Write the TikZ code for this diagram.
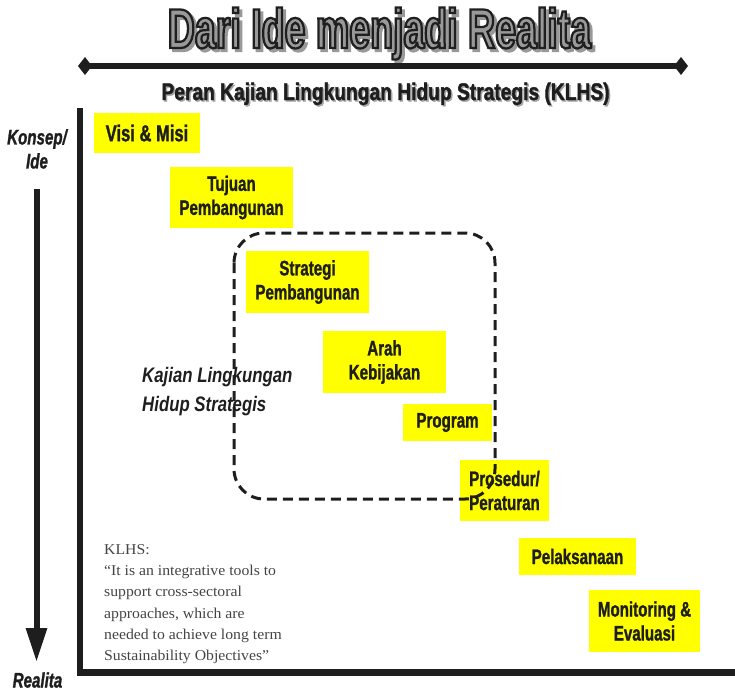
\documentclass[tikz,border=0pt]{standalone}
\usepackage{fontspec}
\setmainfont{Liberation Sans}
\newfontfamily\judulfont[FakeStretch=0.67,FakeBold=4]{Liberation Sans Bold}
\newfontfamily\sempitfont[FakeStretch=0.8,FakeBold=1.6]{Liberation Sans}
\newfontfamily\kotakfont[FakeStretch=0.72,FakeBold=1.2]{Liberation Sans}
\newfontfamily\miringfont[FakeStretch=0.8]{Liberation Sans}
\newfontfamily\kutipfont[FakeStretch=1.05]{Liberation Serif}
\usetikzlibrary{arrows.meta}
\definecolor{kuning}{HTML}{FFFF00}
\definecolor{hitam}{HTML}{1E1E1E}
\definecolor{abukutip}{HTML}{444444}
\newcommand{\judulteks}{Dari Ide menjadi Realita}
\newcommand{\subjudulteks}{Peran Kajian Lingkungan Hidup Strategis (KLHS)}
% isi abu-abu, garis tepi hitam
\newcommand{\tepihitam}[1]{\special{pdf:bcolor [0.6] [0.12]}#1\special{pdf:ecolor}}

\begin{document}
\begin{tikzpicture}[x=1pt,y=-1pt,
    tahap/.style={fill=kuning, text=hitam, inner sep=0pt, align=center,
        font=\kotakfont\bfseries\fontsize{21}{24}\selectfont},
    judul/.style={anchor=base, inner sep=0pt, font=\judulfont\fontsize{56}{60}\selectfont},
    subjudul/.style={anchor=base, inner sep=0pt, font=\sempitfont\bfseries\fontsize{24}{28}\selectfont},
    sumbu/.style={text=hitam, inner sep=0pt, align=center,
        font=\kotakfont\bfseries\itshape\fontsize{21}{24}\selectfont}]
    \useasboundingbox (0,0) rectangle (735,691);

    % judul
    \node[judul, text=black!40] (bayang-judul) at (382.5,51) {\judulteks};
    \node[judul] (judul) at (379.5,48) {\tepihitam{\judulteks}};

    \coordinate (garis-kiri) at (78,66);
    \coordinate (garis-kanan) at (688,66);
    \draw[hitam, line width=5.5pt, {Diamond[width=18pt,length=14pt]}-{Diamond[width=18pt,length=14pt]}]
        (garis-kiri) -- (garis-kanan);

    \node[subjudul, text=black!35] (bayang-subjudul) at (387,101.5) {\subjudulteks};
    \node[subjudul, text=hitam] (subjudul) at (385.5,100) {\subjudulteks};

    % sumbu
    \coordinate (sumbu-atas) at (80,108);
    \coordinate (sumbu-sudut) at (80,675.5);
    \coordinate (sudut-kiri) at (77,672);
    \coordinate (sumbu-kanan) at (735,672);
    \draw[hitam, line width=6pt] (sumbu-atas) -- (sumbu-sudut);
    \draw[hitam, line width=7pt] (sudut-kiri) -- (sumbu-kanan);

    \node[sumbu, anchor=north] (konsep) at (37,129) {Konsep/\\Ide};
    \node[sumbu, anchor=base] (realita) at (37.5,687.5) {Realita};
    \coordinate (panah-atas) at (36.5,189);
    \coordinate (panah-bawah) at (36.5,662);
    \draw[hitam, line width=6pt, -{Triangle[width=20pt,length=34pt]}] (panah-atas) -- (panah-bawah);

    % tahapan
    \node[tahap, minimum width=106pt, minimum height=40pt,
        font=\kotakfont\bfseries\fontsize{23}{26}\selectfont] (visi) at (147,133) {Visi \& Misi};
    \node[tahap, minimum width=123pt, minimum height=61pt] (tujuan) at (231.5,197.5) {Tujuan\\Pembangunan};
    \node[tahap, minimum width=123pt, minimum height=62pt] (strategi) at (307.5,282) {Strategi\\Pembangunan};
    \node[tahap, minimum width=123pt, minimum height=62pt] (arah) at (384.5,362) {Arah\\Kebijakan};
    \node[tahap, minimum width=89pt, minimum height=37pt] (program) at (447.5,422.5) {Program};
    \node[tahap, minimum width=89pt, minimum height=61pt] (prosedur) at (504.5,490.5) {Prosedur/\\Peraturan};
    \node[tahap, minimum width=117pt, minimum height=37pt] (pelaksanaan) at (577.5,556.5) {Pelaksanaan};
    \node[tahap, minimum width=111pt, minimum height=62pt] (monev) at (644.5,621) {Monitoring \&\\Evaluasi};

    \node[sumbu, anchor=north west, align=left,
        font=\miringfont\bfseries\itshape\fontsize{21}{29}\selectfont] (kajian) at (142,367.5)
        {Kajian Lingkungan\\Hidup Strategis};

    \node[anchor=north west, inner sep=0pt, align=left, text=abukutip,
        font=\kutipfont\fontsize{15}{21.3}\selectfont] (kutipan) at (104,544)
        {KLHS:\\“It is an integrative tools to\\support cross-sectoral\\approaches, which are\\needed to achieve long term\\Sustainability Objectives”};

    % cakupan KLHS
    \coordinate (klhs-kiri-atas) at (234,233);
    \coordinate (klhs-kanan-bawah) at (495,499);
    \draw[hitam, line width=3pt, dash pattern=on 10pt off 6pt, rounded corners=30pt]
        (klhs-kiri-atas) rectangle (klhs-kanan-bawah);
\end{tikzpicture}
\end{document}
